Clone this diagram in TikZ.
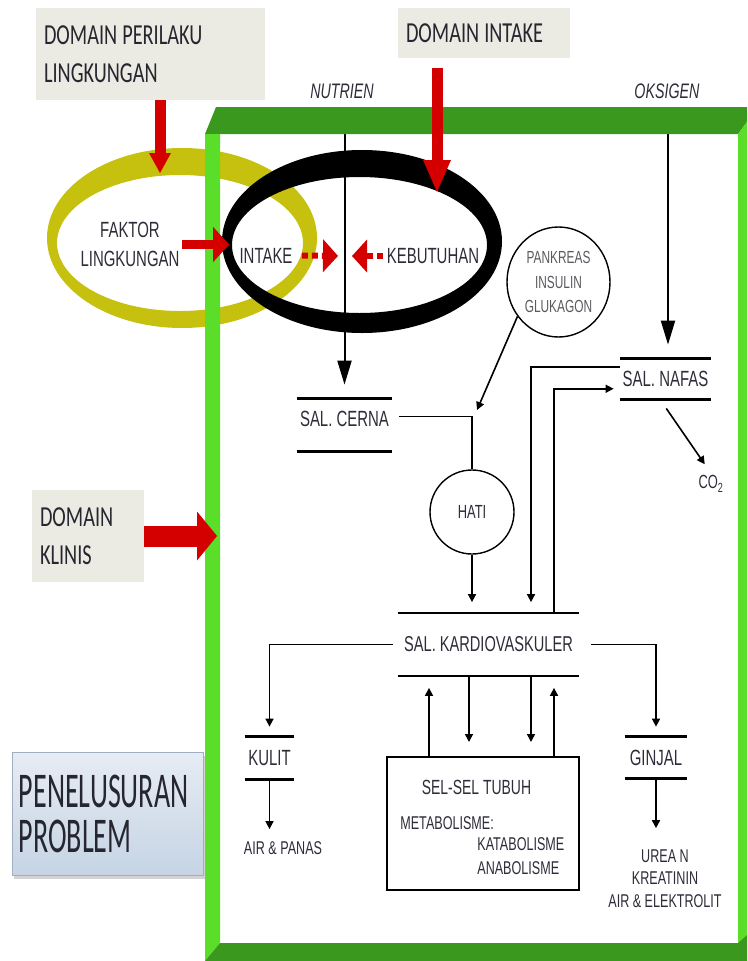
\documentclass[tikz,border=0pt]{standalone}
\usepackage{fontspec}
\setmainfont{Liberation Sans}
\newfontfamily\narrowfont[FakeStretch=0.68]{Liberation Sans}
\newfontfamily\domfont[FakeStretch=0.70]{Carlito}
\newfontfamily\probfont[FakeStretch=0.56]{Carlito}
\usetikzlibrary{arrows.meta,shapes.geometric,shadows}

\definecolor{domaingray}{RGB}{236,235,227}
\definecolor{domaintext}{RGB}{38,38,48}
\definecolor{inktext}{RGB}{45,45,58}
\definecolor{softtext}{RGB}{90,90,96}
\definecolor{darkgreen}{RGB}{58,152,30}
\definecolor{lightgreen}{RGB}{90,222,42}
\definecolor{ringyellow}{RGB}{198,192,14}
\definecolor{arrowred}{RGB}{212,0,0}
\definecolor{probtop}{RGB}{230,236,244}
\definecolor{probbot}{RGB}{198,212,228}
\definecolor{probedge}{RGB}{160,175,192}

\newcommand{\dgap}{\kern5pt\relax}

\tikzset{every picture/.style={line width=0.75pt}}
\tikzset{
  domainbox/.style={fill=domaingray, text=domaintext, inner xsep=8pt, inner ysep=0pt, align=left,
    font=\domfont\fontsize{29}{38}\selectfont},
  probbox/.style={top color=probtop, bottom color=probbot, draw=probedge, line width=0.8pt,
    drop shadow={shadow xshift=2pt, shadow yshift=-4pt, opacity=0.35},
    text=domaintext, inner xsep=7pt, inner ysep=0pt, align=left,
    font=\probfont\fontsize{50}{45}\selectfont},
  txt/.style={font=\narrowfont\fontsize{22}{29}\selectfont, text=inktext, inner sep=2pt},
  smalltxt/.style={font=\narrowfont\fontsize{18.5}{22.5}\selectfont, text=inktext, inner sep=2pt},
  flowtitle/.style={font=\narrowfont\itshape\fontsize{21}{24}\selectfont, text=inktext, inner sep=2pt},
  store/.style={txt, inner sep=0pt},
  storeline/.style={line width=2.6pt},
  organ/.style={draw, line width=1.4pt, inner sep=0pt, txt},
  plain/.style={line width=1.6pt},
  conn/.style={line width=1.6pt, -{Triangle[length=8pt,width=8pt]}},
  feed/.style={line width=2pt, -{Triangle[length=24pt,width=14pt]}},
  redbar/.style={draw=arrowred},
  reddots/.style={draw=arrowred, line width=6pt, dash pattern=on 6pt off 4pt,
    -{Triangle[length=15pt,width=33pt,line width=0pt]}},
}

\begin{document}
\begin{tikzpicture}[x=1pt,y=1pt,yscale=-1]
\useasboundingbox (0,0) rectangle (747,961);

% Text Node
\node[domainbox, minimum width=229pt, minimum height=92pt, text width=213pt] (perilaku) at (150.5,54) {DOMAIN\dgap PERILAKU\\LINGKUNGAN};
% Text Node
\node[domainbox, minimum width=172pt, minimum height=50pt, text width=156pt] (dintake) at (484,33) {DOMAIN\dgap INTAKE};
% Text Node
\node[domainbox, minimum width=112pt, minimum height=92pt, text width=96pt] (klinis) at (88,536) {DOMAIN\\KLINIS};
% Text Node
\node[probbox, minimum width=191pt, minimum height=123pt, text width=177pt] (problem) at (107.5,813.5) {PENELUSURAN\\PROBLEM};

%Shape: Ellipse (lingkungan ring)
\fill[ringyellow, even odd rule] (182,238) ellipse [x radius=135, y radius=90]
                                 (180,243) ellipse [x radius=123, y radius=68];
%Shape: Ellipse (intake ring)
\fill[black, even odd rule] (362,241.5) ellipse [x radius=140, y radius=91.5]
                            (359.5,245) ellipse [x radius=127.5, y radius=68];

% Text Node
\node[txt, align=center] (faktor) at (130,244.5) {FAKTOR\\LINGKUNGAN};
\node[txt] (intake) at (266,255.5) {INTAKE};
\node[txt] (kebutuhan) at (433,256) {KEBUTUHAN};
\coordinate (meet) at (344,256);

\node[flowtitle] (nutrien) at (342,91) {NUTRIEN};
\node[flowtitle] (oksigen) at (667,91) {OKSIGEN};

%Shape: saluran (two bars)
\node[store, minimum width=95pt, minimum height=52pt, text depth=12pt] (cerna) at (344.5,425) {SAL. CERNA};
\node[store, minimum width=91pt, minimum height=40pt] (nafas) at (665.5,379) {SAL. NAFAS};
\node[store, minimum width=181pt, minimum height=62pt, font=\narrowfont\fontsize{21.5}{26}\selectfont] (kardio) at (488.5,644.5) {SAL. KARDIOVASKULER};
\node[store, minimum width=49pt, minimum height=42pt] (kulit) at (269.5,758) {KULIT};
\node[store, minimum width=62pt, minimum height=41pt] (ginjal) at (656,757.5) {GINJAL};
\foreach \s in {cerna,nafas,kardio,kulit,ginjal}
  \draw[storeline] (\s.north west) -- (\s.north east) (\s.south west) -- (\s.south east);

%Shape: Circle
\node[organ, circle, minimum size=84pt, font=\narrowfont\fontsize{19}{22}\selectfont] (hati) at (472,512) {HATI};
\node[organ, ellipse, minimum width=103pt, minimum height=110pt, align=center, text=softtext,
      font=\narrowfont\fontsize{17.5}{24.5}\selectfont] (pankreas) at (558.5,282) {PANKREAS\\INSULIN\\GLUKAGON};
\node[txt, font=\narrowfont\fontsize{19}{22}\selectfont] (co2) at (711,484) {CO\textsubscript{2}};

%Shape: Rectangle
\node[draw, line width=2pt, minimum width=192pt, minimum height=133pt] (sel) at (483,823.5) {};
\node[txt, font=\narrowfont\fontsize{20.5}{24}\selectfont] (seltitle) at (476.5,787) {SEL-SEL TUBUH};
\node[smalltxt, anchor=west] (metab) at (398,823) {METABOLISME:};
\node[smalltxt, anchor=west] (katab) at (475,844) {KATABOLISME};
\node[smalltxt, anchor=west] (anab) at (475,868) {ANABOLISME};

\node[smalltxt] (airpanas) at (283,848) {AIR \& PANAS};
\node[smalltxt, align=center] (urea) at (665,878.5) {UREA N\\KREATININ\\AIR \& ELEKTROLIT};

%Straight Lines
\coordinate (nutIn) at (344.5,134);
\coordinate (oksIn) at (668,134);
\draw[feed, shorten >=14pt] (nutIn) -- (cerna.north);
\draw[feed, shorten >=14pt] (oksIn) -- (oksIn |- nafas.north);

\draw[plain, shorten <=7pt] (cerna.10) -| (hati.north);
\coordinate (pkTip) at (477,410);
\draw[conn] (pankreas.220) -- (pkTip);
\draw[conn, shorten >=11pt] (hati.south) -- (hati.south |- kardio.north);

\draw[conn, shorten >=11pt] (nafas.165) -| (531,0 |- kardio.north);
\draw[conn, shorten >=6pt] (554,0 |- kardio.north) |- (nafas.192);
\draw[conn, shorten <=11pt, shorten >=11pt] (nafas.255) -- (co2.north);

\draw[conn, shorten <=5pt, shorten >=10pt] (kardio.west) -| (kulit.north);
\draw[conn, shorten <=12pt, shorten >=10pt] (kardio.east) -| (ginjal.north);
\draw[conn, shorten >=10pt] (kulit.south) -- (kulit.south |- airpanas.north);
\draw[conn, shorten >=19pt] (ginjal.south) -- (ginjal.south |- urea.north);

\draw[conn, shorten >=12pt] (429,0 |- sel.north) -- (429,0 |- kardio.south);
\draw[conn, shorten >=14pt] (469,0 |- kardio.south) -- (469,0 |- sel.north);
\draw[conn, shorten >=14pt] (531,0 |- kardio.south) -- (531,0 |- sel.north);
\draw[conn, shorten >=12pt] (554,0 |- sel.north) -- (554,0 |- kardio.south);

%Shape: green frame
\fill[darkgreen] (205,134) -- (216,107) -- (747,107) -- (747,122) -- (738,134) -- cycle;
\fill[lightgreen] (205,134) -- (220,134) -- (220,943) -- (205,961) -- cycle;
\fill[lightgreen] (738,134) -- (747,122) -- (747,935) -- (738,943) -- cycle;
\fill[darkgreen] (205,961) -- (220,943) -- (738,943) -- (747,935) -- (747,961) -- cycle;

%Straight Lines (red)
\coordinate (ringTop) at (160,173);
\coordinate (intakeRing) at (437,192);
\coordinate (frameW) at (217,536);
\draw[redbar, line width=11pt, -{Triangle[length=20pt,width=22pt,line width=0pt]}] (perilaku.south -| ringTop) -- (ringTop);
\draw[redbar, line width=11pt, shorten <=10pt, -{Triangle[length=32pt,width=28pt,line width=0pt]}] (dintake.south -| intakeRing) -- (intakeRing);
\draw[redbar, line width=9pt, shorten >=8pt, -{Triangle[length=16pt,width=35pt,line width=0pt]}] (faktor.east) -- (faktor.east -| intake.west);
\draw[redbar, line width=21pt, -{Triangle[length=20pt,width=49pt,line width=0pt]}] (klinis.east) -- (frameW);
\draw[reddots, shorten <=7pt, shorten >=6pt] (intake.east) -- (meet);
\draw[reddots, shorten <=1pt, shorten >=8pt] (kebutuhan.west) -- (meet);

\end{tikzpicture}
\end{document}
